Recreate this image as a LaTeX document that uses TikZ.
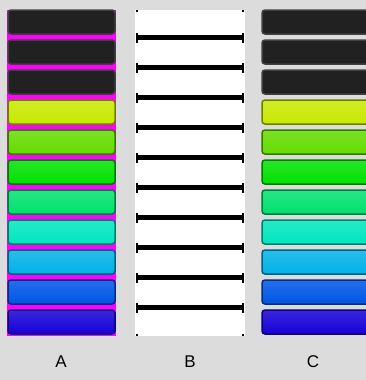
\documentclass[tikz,border=0pt]{standalone}
\usepackage{fontspec}
\setmainfont{Liberation Sans}
\usepackage{xcolor}

\definecolor{panelgray}{RGB}{220,220,220}
\definecolor{pinkbg}{RGB}{255,0,255}
% bar fills, top to bottom
\definecolor{barA}{RGB}{33,33,33}
\definecolor{barB}{RGB}{200,232,0}
\definecolor{barC}{RGB}{100,220,0}
\definecolor{barD}{RGB}{0,225,0}
\definecolor{barE}{RGB}{0,225,110}
\definecolor{barF}{RGB}{0,230,190}
\definecolor{barG}{RGB}{0,178,230}
\definecolor{barH}{RGB}{0,85,230}
\definecolor{barI}{RGB}{22,0,215}

\tikzset{
  bar/.style={rounded corners=3pt, line width=1.5pt},
  rung/.style={line width=4.2pt},
  rungend/.style={line width=2pt},
  lab/.style={font=\fontsize{17}{17}\selectfont, text=black},
}

\begin{document}
\begin{tikzpicture}[x=1pt,y=-1pt]
  \clip (0,0) rectangle (366,380);
  \fill[panelgray] (0,0) rectangle (366,380);
  % Column A
  \fill[pinkbg] (7,10) rectangle (116,336);
  \foreach \c [count=\i from 0] in {barA,barA,barA,barB,barC,barD,barE,barF,barG,barH,barI} {
    \ifnum\i<3
      \draw[bar, fill=barA, draw=black!75] (8,10+30*\i) rectangle (115,34+30*\i);
    \else
      \shade[bar, top color=\c!85!white, bottom color=\c, draw=\c!55!black] (8,10+30*\i) rectangle (115,34+30*\i);
    \fi
  }
  % Column B
  \fill[white] (135,10) rectangle (245,336);
  \foreach \i in {0,...,9} {
    \draw[rung] (136,37.5+30*\i) -- (244,37.5+30*\i);
    \draw[rungend] (137,32.5+30*\i) -- (137,42.5+30*\i);
    \draw[rungend] (243,32.5+30*\i) -- (243,42.5+30*\i);
  }
  \fill (136,10) rectangle (138,12);
  \fill (242,10) rectangle (244,12);
  \fill (136,334) rectangle (138,336);
  \fill (242,334) rectangle (244,336);
  % Column C
  \foreach \c [count=\i from 0] in {barA,barA,barA,barB,barC,barD,barE,barF,barG,barH,barI} {
    \ifnum\i<3
      \draw[bar, fill=barA, draw=black!75] (262,10+30*\i) rectangle (380,34+30*\i);
    \else
      \shade[bar, top color=\c!85!white, bottom color=\c, draw=\c!55!black] (262,10+30*\i) rectangle (380,34+30*\i);
    \fi
  }
  % labels
  \node[lab] (labA) at (61,362) {A};
  \node[lab] (labB) at (190,362) {B};
  \node[lab] (labC) at (313,362) {C};
\end{tikzpicture}
\end{document}
